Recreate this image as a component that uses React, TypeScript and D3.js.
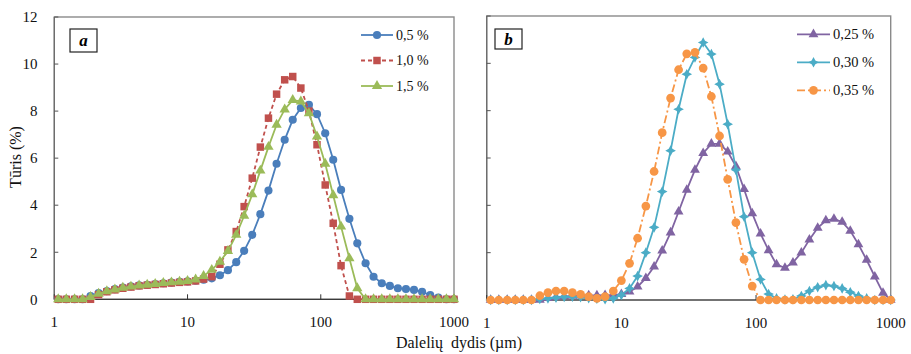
import * as d3 from "d3";

// dalelių dydžio klasės (µm)
const sizes = [
  1.07, 1.23, 1.42, 1.63, 1.87, 2.15, 2.48, 2.85, 3.27, 3.76,
  4.33, 4.98, 5.72, 6.58, 7.57, 8.71, 10.0, 11.5, 13.2, 15.2,
  17.5, 20.1, 23.2, 26.6, 30.6, 35.2, 40.5, 46.6, 53.6, 61.6,
  70.9, 81.5, 93.7, 108, 124, 142, 164, 188, 217, 249,
  287, 330, 379, 436, 501, 576, 663, 762, 877, 1000,
];

const xTicks = [1, 10, 100, 1000];
const yTicks = [0, 2, 4, 6, 8, 10, 12];

// a dalis
const vol05 = [
  0, 0, 0, 0, 0.14, 0.26, 0.35, 0.43, 0.5, 0.55,
  0.59, 0.62, 0.65, 0.68, 0.71, 0.74, 0.76, 0.79, 0.83, 0.89,
  1.02, 1.24, 1.58, 2.06, 2.74, 3.62, 4.62, 5.76, 6.78, 7.63,
  8.13, 8.27, 7.87, 7.06, 5.93, 4.65, 3.42, 2.38, 1.53, 0.96,
  0.68, 0.57, 0.47, 0.44, 0.4, 0.32, 0.18, 0.07, 0, 0,
];
const vol10 = [
  0, 0, 0, 0, 0, 0.2, 0.32, 0.4, 0.47, 0.52,
  0.57, 0.6, 0.63, 0.66, 0.69, 0.72, 0.74, 0.78, 0.86, 0.96,
  1.49, 2.1, 2.88, 3.94, 5.15, 6.47, 7.7, 8.72, 9.33, 9.47,
  8.98, 8.0, 6.57, 4.86, 3.23, 1.43, 0.14, 0, 0, 0,
  0, 0, 0, 0, 0, 0, 0, 0, 0, 0,
];
const vol15 = [
  0, 0, 0, 0, 0.1, 0.24, 0.34, 0.42, 0.49, 0.54,
  0.59, 0.62, 0.65, 0.69, 0.72, 0.75, 0.78, 0.84, 0.99, 1.25,
  1.6, 2.05, 2.74, 3.55, 4.46, 5.47, 6.48, 7.42, 8.07, 8.47,
  8.41, 7.91, 6.92, 5.76, 4.42, 3.09, 1.74, 0.47, 0, 0,
  0, 0, 0, 0, 0, 0, 0, 0, 0, 0,
];

// b dalis
const vol025 = [
  0, 0, 0, 0, 0, 0, 0, 0.08, 0.12, 0.15,
  0.17, 0.18, 0.19, 0.19, 0.2, 0.21, 0.25, 0.35, 0.56, 0.92,
  1.41, 2.08, 2.85, 3.73, 4.65, 5.5, 6.2, 6.6, 6.6, 6.27,
  5.65, 4.68, 3.66, 2.8, 2.1, 1.5, 1.36, 1.58, 2.0, 2.55,
  3.05, 3.36, 3.43, 3.3, 2.92, 2.35, 1.69, 0.99, 0.3, 0,
];
const vol030 = [
  0, 0, 0, 0, 0, 0, 0.04, 0.07, 0.1, 0.13,
  0.14, 0.12, 0.08, 0.05, 0.03, 0.07, 0.21, 0.49, 1.01, 2.0,
  3.07, 4.58, 6.31, 8.06, 9.54, 10.25, 10.88, 10.39, 9.12, 7.43,
  5.5, 3.52, 2.0, 0.87, 0.25, 0.07, 0.02, 0.03, 0.17, 0.38,
  0.54, 0.63, 0.59, 0.49, 0.33, 0.17, 0.07, 0, 0, 0,
];
const vol035 = [
  0, 0, 0, 0, 0, 0, 0.18, 0.31, 0.38, 0.38,
  0.31, 0.24, 0.14, 0.07, 0.14, 0.38, 0.82, 1.55, 2.61, 3.97,
  5.43, 7.07, 8.53, 9.73, 10.4, 10.46, 9.8, 8.6, 6.93, 5.1,
  3.27, 1.72, 0.59, 0, 0, 0, 0, 0, 0, 0,
  0, 0, 0, 0, 0, 0, 0, 0, 0, 0,
];

const FONT = "'Liberation Serif', 'Times New Roman', serif";

type Marker = "circle" | "square" | "triangle" | "star";

interface Series {
  name: string;
  values: number[];
  color: string;
  dash?: string;
  marker: Marker;
  size: number;
}

function markerPath(m: Marker, size: number) {
  if (m === "star") {
    const r = Math.sqrt(size) * 0.75;
    const w = r * 0.35;
    return `M0,${-r}L${w},${-w}L${r},0L${w},${w}L0,${r}L${-w},${w}L${-r},0L${-w},${-w}Z`;
  }
  const t = m === "circle" ? d3.symbolCircle : m === "square" ? d3.symbolSquare : d3.symbolTriangle;
  return d3.symbol().type(t).size(size)() as string;
}

interface PanelProps {
  x0: number;
  x1: number;
  yTop: number;
  yBottom: number;
  series: Series[];
  label: string;
  box: { x: number; y: number; w: number; h: number };
  legend: { x: number; y: number; dy: number; len: number; font: number };
  showY: boolean;
  xLabelY: number;
}

function Panel({ x0, x1, yTop, yBottom, series, label, box, legend, showY, xLabelY }: PanelProps) {
  const x = d3.scaleLog().domain([1, 1000]).range([x0, x1]);
  const y = d3.scaleLinear().domain([0, 12]).range([yBottom, yTop]);
  const line = d3
    .line<number>()
    .x((_, i) => x(sizes[i]))
    .y((d) => y(d));

  return (
    <g>
      {/* rėmelis */}
      <rect x={x0} y={yTop} width={x1 - x0} height={yBottom - yTop} fill="none" stroke="#8a8a8a" strokeWidth={1.4} />
      <line x1={x0} x2={x1} y1={yBottom} y2={yBottom} stroke="#3a3a3a" strokeWidth={1.2} />
      <line x1={x0} x2={x0} y1={yTop} y2={yBottom} stroke="#6a6a6a" strokeWidth={1.2} />

      {yTicks.map((t) => (
        <g key={"y" + t}>
          <line x1={x0} x2={x0 + 4} y1={y(t)} y2={y(t)} stroke="#555" />
          {showY && (
            <text x={37.5} y={y(t)} dy="0.35em" textAnchor="end" fontSize={15} fontFamily={FONT} fill="#111">
              {t}
            </text>
          )}
        </g>
      ))}
      {xTicks.map((t) => (
        <g key={"x" + t}>
          <line x1={x(t)} x2={x(t)} y1={yBottom} y2={yBottom - 5} stroke="#333" />
          <text x={x(t)} y={xLabelY} textAnchor="middle" fontSize={15} fontFamily={FONT} fill="#111">
            {t}
          </text>
        </g>
      ))}

      {series.map((s) => (
        <g key={s.name}>
          <path d={line(s.values) as string} fill="none" stroke={s.color} strokeWidth={1.8} strokeDasharray={s.dash} />
          {s.values.map((v, i) => (
            <path key={i} d={markerPath(s.marker, s.size)} transform={`translate(${x(sizes[i])},${y(v)})`} fill={s.color} />
          ))}
        </g>
      ))}

      {/* legenda */}
      {series.map((s, i) => {
        const ly = legend.y + i * legend.dy;
        return (
          <g key={"lg" + s.name}>
            <line x1={legend.x} x2={legend.x + legend.len} y1={ly} y2={ly} stroke={s.color} strokeWidth={1.8} strokeDasharray={s.dash} />
            <path d={markerPath(s.marker, s.size)} transform={`translate(${legend.x + legend.len / 2},${ly})`} fill={s.color} />
            <text x={legend.x + legend.len + 3} y={ly} dy="0.35em" fontSize={legend.font} fontFamily={FONT} fill="#111">
              {s.name}
            </text>
          </g>
        );
      })}

      <rect x={box.x} y={box.y} width={box.w} height={box.h} fill="#fff" stroke="#222" strokeWidth={1.2} />
      <text
        x={box.x + box.w / 2}
        y={box.y + box.h / 2}
        dy="0.35em"
        textAnchor="middle"
        fontSize={17}
        fontWeight="bold"
        fontStyle="italic"
        fontFamily={FONT}
      >
        {label}
      </text>
    </g>
  );
}

export default function App() {
  const seriesA: Series[] = [
    { name: "0,5 %", values: vol05, color: "#4a7ebb", marker: "circle", size: 52 },
    { name: "1,0 %", values: vol10, color: "#c0504d", dash: "4,3", marker: "square", size: 56 },
    { name: "1,5 %", values: vol15, color: "#9bbb59", marker: "triangle", size: 46 },
  ];
  const seriesB: Series[] = [
    { name: "0,25 %", values: vol025, color: "#8064a2", marker: "triangle", size: 42 },
    { name: "0,30 %", values: vol030, color: "#4bacc6", marker: "star", size: 50 },
    { name: "0,35 %", values: vol035, color: "#f79646", dash: "8,3,2,3", marker: "circle", size: 60 },
  ];

  return (
    <svg width={911} height={354} style={{ position: "absolute", left: 0, top: 0, background: "#fff" }}>
      <rect width={911} height={354} fill="#fff" />
      <Panel
        x0={54.3}
        x1={454}
        yTop={17}
        yBottom={299.3}
        series={seriesA}
        label="a"
        box={{ x: 70, y: 29, w: 27, h: 23 }}
        legend={{ x: 361, y: 35, dy: 25.5, len: 32, font: 14 }}
        showY={true}
        xLabelY={327}
      />
      <Panel
        x0={486.7}
        x1={890.7}
        yTop={16}
        yBottom={300}
        series={seriesB}
        label="b"
        box={{ x: 495, y: 29, w: 27, h: 20 }}
        legend={{ x: 797, y: 34.3, dy: 28, len: 33, font: 14.5 }}
        showY={false}
        xLabelY={328}
      />
      <text
        transform="translate(21,157) rotate(-90)"
        textAnchor="middle"
        fontSize={16}
        fontFamily={FONT}
        fill="#111"
      >
        Tūris (%)
      </text>
      <text x={459} y={348} textAnchor="middle" fontSize={16} fontFamily={FONT} fill="#111" style={{ whiteSpace: "pre" }}>
        {"Dalelių  dydis (µm)"}
      </text>
    </svg>
  );
}
